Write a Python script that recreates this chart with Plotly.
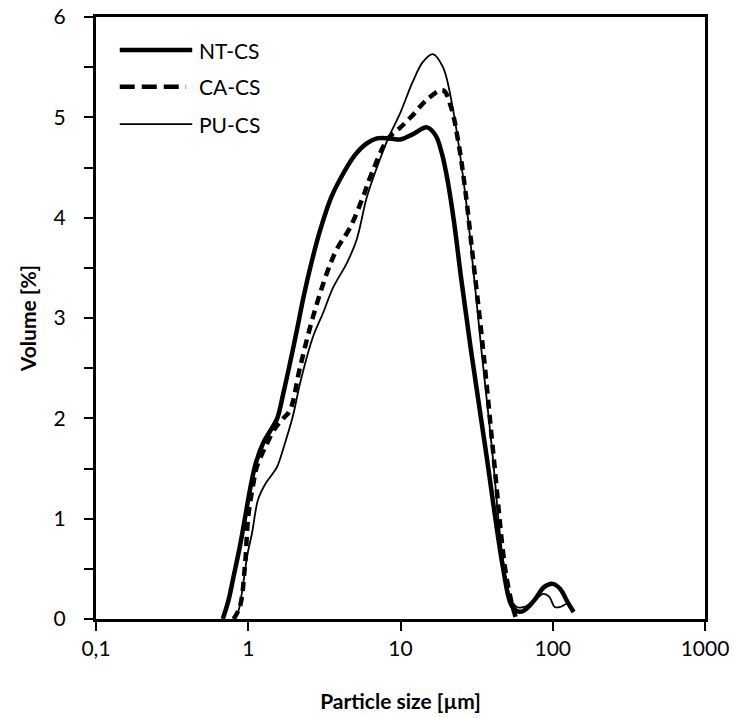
import plotly.graph_objects as go

# ---- data ----
nt_x = [0.68, 0.74, 0.80, 0.88, 0.95, 1.03, 1.12, 1.25, 1.40, 1.55, 1.70, 1.88, 2.1, 2.3, 2.6, 2.96, 3.5, 4.0, 5.0, 6.0, 7.0, 8.5, 10, 12, 14.9, 17, 18.7, 20.5, 22.5, 25, 28.9, 36.3, 47, 53, 58, 64, 75, 88, 100, 112, 125, 137]
nt_y = [0.0, 0.18, 0.42, 0.72, 1.0, 1.3, 1.55, 1.75, 1.88, 2.0, 2.25, 2.55, 2.9, 3.2, 3.55, 3.87, 4.2, 4.38, 4.62, 4.74, 4.79, 4.79, 4.78, 4.83, 4.90, 4.82, 4.64, 4.35, 3.95, 3.4, 2.7, 1.68, 0.52, 0.15, 0.08, 0.08, 0.18, 0.32, 0.35, 0.3, 0.17, 0.07]

ca_x = [0.80, 0.88, 0.95, 1.0, 1.08, 1.14, 1.3, 1.5, 1.7, 1.88, 2.19, 2.66, 3.29, 3.8, 4.66, 5.65, 6.5, 8.3, 10, 12, 15, 19, 21.5, 24, 26.5, 29.4, 34.8, 41, 48.5, 53, 57]
ca_y = [0.0, 0.12, 0.52, 1.02, 1.35, 1.52, 1.72, 1.9, 2.0, 2.08, 2.51, 3.01, 3.45, 3.68, 3.9, 4.2, 4.45, 4.79, 4.9, 5.02, 5.18, 5.27, 5.1, 4.75, 4.3, 3.7, 2.7, 1.6, 0.52, 0.2, 0.02]

pu_x = [0.82, 0.87, 0.92, 0.99, 1.06, 1.16, 1.3, 1.45, 1.55, 1.7, 1.97, 2.19, 2.66, 3.1, 3.6, 4.45, 5.15, 6.0, 7.0, 8.3, 10, 12, 14, 16.3, 19, 22, 26.4, 30, 34, 40, 47, 53, 58, 65, 75, 87, 95, 103, 112, 125, 137]
pu_y = [0.0, 0.1, 0.32, 0.65, 0.86, 1.19, 1.35, 1.45, 1.52, 1.7, 2.03, 2.35, 2.81, 3.05, 3.3, 3.55, 3.78, 4.2, 4.5, 4.79, 5.05, 5.35, 5.55, 5.63, 5.5, 5.1, 4.28, 3.5, 2.68, 1.68, 0.6, 0.2, 0.12, 0.12, 0.18, 0.25, 0.22, 0.12, 0.12, 0.15, 0.07]

series_names = ["NT-CS", "CA-CS", "PU-CS"]
x_tickvals = [0.1, 1, 10, 100, 1000]
x_ticktext = ["0,1", "1", "10", "100", "1000"]
y_tickvals = [0, 1, 2, 3, 4, 5, 6]

FONT = "Lato"

fig = go.Figure()
fig.add_trace(go.Scatter(x=nt_x, y=nt_y, mode="lines", name=series_names[0],
                         line=dict(color="black", width=4.5, shape="spline", smoothing=1)))
fig.add_trace(go.Scatter(x=ca_x, y=ca_y, mode="lines", name=series_names[1],
                         line=dict(color="black", width=4.5, dash="9px,6px", shape="spline", smoothing=1)))
fig.add_trace(go.Scatter(x=pu_x, y=pu_y, mode="lines", name=series_names[2],
                         line=dict(color="black", width=1.8, shape="spline", smoothing=1)))

# manual legend (top-left inside plot)
leg_y = [0.945, 0.884, 0.822]
leg_styles = [dict(width=4.5), dict(width=4.5, dash="15px,7px"), dict(width=1.8)]
leg_x1 = [0.158, 0.148, 0.158]
for name, yy, st, x1 in zip(series_names, leg_y, leg_styles, leg_x1):
    fig.add_shape(type="line", xref="paper", yref="paper", x0=0.039, x1=x1, y0=yy, y1=yy,
                  line=dict(color="black", **st))
    fig.add_annotation(xref="paper", yref="paper", x=0.166, y=yy, text=name, showarrow=False,
                       xanchor="left", yanchor="middle", font=dict(family=FONT, size=21, color="black"))

fig.update_layout(
    width=735, height=718,
    margin=dict(l=96, r=30, t=17, b=99, autoexpand=False),
    paper_bgcolor="white", plot_bgcolor="white",
    showlegend=False,
    separators=", ",
    font=dict(family=FONT, size=21, color="black"),
)
fig.update_xaxes(
    type="log", range=[-1, 3], automargin=False,
    tickvals=x_tickvals, ticktext=x_ticktext,
    ticks="outside", ticklen=9, tickwidth=2, tickcolor="black",
    showline=True, linewidth=3, linecolor="black", mirror=True,
    showgrid=False, zeroline=False,
    ticklabelstandoff=0,
    title=dict(text="<b>Particle size [µm]</b>", font=dict(family=FONT, size=21), standoff=36),
)
fig.update_yaxes(
    range=[0, 6], tickvals=y_tickvals, automargin=False,
    ticks="outside", ticklen=9, tickwidth=2, tickcolor="black",
    minor=dict(dtick=0.5, ticks="outside", ticklen=9, tickwidth=2, tickcolor="black", showgrid=False),
    showline=True, linewidth=3, linecolor="black", mirror=True,
    showgrid=False, zeroline=False,
    ticklabelstandoff=14,
    title=dict(text="<b>Volume [%]</b>", font=dict(family=FONT, size=21), standoff=12),
)

fig.write_html("out.html")
